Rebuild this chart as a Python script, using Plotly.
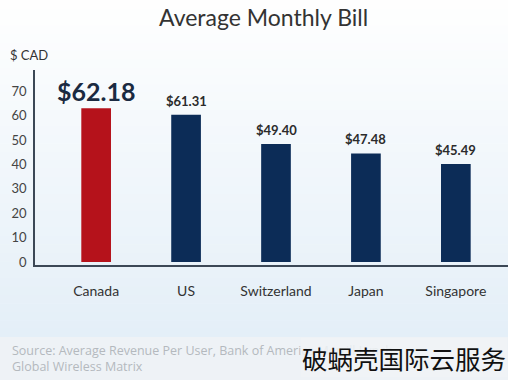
import plotly.graph_objects as go

categories = ["Canada", "US", "Switzerland", "Japan", "Singapore"]
bar_heights = [63.0, 60.4, 48.4, 44.5, 40.2]
value_labels = ["$62.18", "$61.31", "$49.40", "$47.48", "$45.49"]
bar_colors = ["#b5121b", "#0c2c57", "#0c2c57", "#0c2c57", "#0c2c57"]
y_ticks = [0, 10, 20, 30, 40, 50, 60, 70]

FONT = "Lato"
W, H = 508, 380
L, R, T, B = 35, 0, 70, 115
PH = H - T - B


def py(p):
    return (H - B - p) / PH


def px(p):
    return (p - L) / (W - L - R)


fig = go.Figure()
fig.add_trace(go.Bar(
    x=categories, y=bar_heights, marker=dict(color=bar_colors, line=dict(width=0)),
    width=0.33, hoverinfo="skip"))

shapes = []
# background gradient (decorative)
top = (255, 255, 255)
bot = (228, 239, 248)
n = 40
for i in range(n):
    y0 = 337 * i / n
    y1 = 337 * (i + 1) / n + 0.5
    t = (i + 0.5) / n
    c = tuple(int(top[k] + (bot[k] - top[k]) * t) for k in range(3))
    shapes.append(dict(type="rect", xref="paper", yref="paper", x0=px(0), x1=px(W),
                       y0=py(y1), y1=py(y0), fillcolor="rgb(%d,%d,%d)" % c,
                       line=dict(width=0), layer="below"))
shapes.append(dict(type="rect", xref="paper", yref="paper", x0=px(0), x1=px(W),
                   y0=py(H), y1=py(337), fillcolor="#eef2f6", line=dict(width=0), layer="below"))

annotations = []
for i, (c, h, lab) in enumerate(zip(categories, bar_heights, value_labels)):
    if i == 0:
        annotations.append(dict(x=c, y=h, text="<b>" + lab + "</b>", showarrow=False,
                                yanchor="bottom", yshift=0,
                                font=dict(family=FONT, size=25, color="#1b2a41")))
    else:
        annotations.append(dict(x=c, y=h, text="<b>" + lab + "</b>", showarrow=False,
                                yanchor="bottom", yshift=4,
                                font=dict(family=FONT, size=13, color="#2b2b2b")))

annotations += [
    dict(xref="paper", yref="paper", x=px(263), y=py(17), text="Average Monthly Bill",
         showarrow=False, xanchor="center", yanchor="middle",
         font=dict(family=FONT, size=23, color="#333333")),
    dict(xref="paper", yref="paper", x=px(8), y=py(55), text="$ CAD",
         showarrow=False, xanchor="left", yanchor="middle",
         font=dict(family=FONT, size=13, color="#333333")),
    dict(xref="paper", yref="paper", x=px(10), y=py(358),
         text="Source: Average Revenue Per User, Bank of America Merrill Lynch<br>Global Wireless Matrix",
         showarrow=False, xanchor="left", yanchor="middle", align="left",
         font=dict(family="Open Sans", size=12.5, color="#b4b9be")),
    dict(xref="paper", yref="paper", x=px(508), y=py(357), text="破蜗壳国际云服务",
         showarrow=False, xanchor="right", yanchor="middle", bgcolor="rgba(240,243,246,0.85)",
         font=dict(family="Noto Sans CJK SC", size=25.5, color="#111111")),
]

fig.update_layout(
    width=W, height=H, margin=dict(l=L, r=R, t=T, b=B),
    paper_bgcolor="#ffffff", plot_bgcolor="rgba(0,0,0,0)",
    showlegend=False, bargap=0.67,
    shapes=shapes, annotations=annotations,
    xaxis=dict(range=[-0.68, 4.58], showgrid=False, zeroline=False,
               showline=True, linecolor="#3c4856", linewidth=1.5,
               ticks="", ticklabelstandoff=12,
               tickfont=dict(family=FONT, size=14, color="#333333")),
    yaxis=dict(range=[-1.2, 78.7], tickvals=y_ticks, showgrid=False, zeroline=False,
               showline=True, linecolor="#3c4856", linewidth=1.5,
               ticks="", ticklabelstandoff=4,
               tickfont=dict(family=FONT, size=13, color="#444444")),
)

fig.write_html("out.html", config={"displayModeBar": False},
               post_script="document.body.style.margin='0';document.body.style.overflow='hidden';")
